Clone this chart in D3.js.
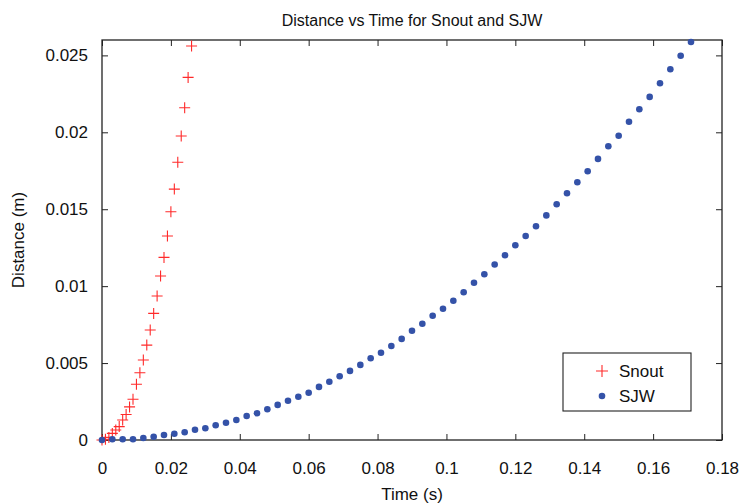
<!DOCTYPE html>
<html>
<head>
<meta charset="utf-8">
<script src="https://cdn.jsdelivr.net/npm/d3@7"></script>
<style>
  body { margin: 0; background: #fff; }
  svg { display: block; font-family: "Liberation Sans", Arial, sans-serif; }
</style>
</head>
<body>
<svg id="chart"></svg>
<script>
// Snout: sampled every 1 ms
const snoutTime = [0, 0.001, 0.002, 0.003, 0.004, 0.005, 0.006, 0.007, 0.008, 0.009,
  0.010, 0.011, 0.012, 0.013, 0.014, 0.015, 0.016, 0.017, 0.018, 0.019,
  0.020, 0.021, 0.022, 0.023, 0.024, 0.025, 0.026];
const snoutDist = [0, 0.00005, 0.00017, 0.00043, 0.00065, 0.00087, 0.0013, 0.00166, 0.00215, 0.00265,
  0.00362, 0.00437, 0.0052, 0.00617, 0.00715, 0.00823, 0.00936, 0.01066, 0.01187, 0.01326,
  0.01484, 0.01631, 0.01805, 0.01976, 0.0216, 0.02357, 0.02561];

// SJW: sampled every 3 ms
const sjwTime = [0, 0.003, 0.006, 0.009, 0.012, 0.015, 0.018, 0.021, 0.024, 0.027,
  0.030, 0.033, 0.036, 0.039, 0.042, 0.045, 0.048, 0.051, 0.054, 0.057,
  0.060, 0.063, 0.066, 0.069, 0.072, 0.075, 0.078, 0.081, 0.084, 0.087,
  0.090, 0.093, 0.096, 0.099, 0.102, 0.105, 0.108, 0.111, 0.114, 0.117,
  0.120, 0.123, 0.126, 0.129, 0.132, 0.135, 0.138, 0.141, 0.144, 0.147,
  0.150, 0.153, 0.156, 0.159, 0.162, 0.165, 0.168, 0.171];
const sjwDist = [0, 0.00005, 0.00005, 0.00005, 0.00013, 0.000215, 0.000325, 0.00041, 0.0005, 0.00067,
  0.00076, 0.00096, 0.00112, 0.0013, 0.00156, 0.00174, 0.002, 0.00228, 0.00255, 0.00281,
  0.00307, 0.00345, 0.00379, 0.00414, 0.00449, 0.00488, 0.00531, 0.00567, 0.00611, 0.00657,
  0.0071, 0.00756, 0.00808, 0.00853, 0.00905, 0.0096, 0.01022, 0.01077, 0.01141, 0.01201,
  0.01266, 0.01326, 0.01389, 0.0146, 0.01532, 0.01604, 0.01675, 0.01747, 0.01827, 0.01909,
  0.01978, 0.02069, 0.0215, 0.0223, 0.02319, 0.0241, 0.02498, 0.02587];

const xTicks = [0, 0.02, 0.04, 0.06, 0.08, 0.1, 0.12, 0.14, 0.16, 0.18];
const xTickLabels = ["0", "0.02", "0.04", "0.06", "0.08", "0.1", "0.12", "0.14", "0.16", "0.18"];
const yTicks = [0, 0.005, 0.01, 0.015, 0.02, 0.025];
const yTickLabels = ["0", "0.005", "0.01", "0.015", "0.02", "0.025"];

const seriesNames = ["Snout", "SJW"];

const width = 742, height = 504;
const marginLeft = 102, marginRight = 20, marginTop = 40, marginBottom = 64;
const TICK = 6;
const RED = "#ff2a2a", BLUE = "#3452a8";

const x = d3.scaleLinear().domain([0, 0.18]).range([marginLeft, width - marginRight]);
const y = d3.scaleLinear().domain([0, 0.026]).range([height - marginBottom, marginTop]);

const svg = d3.select("#chart")
    .attr("width", width)
    .attr("height", height)
    .attr("viewBox", [0, 0, width, height]);

svg.append("rect").attr("width", width).attr("height", height).attr("fill", "#fff");

const x0 = x.range()[0], x1 = x.range()[1];
const y0 = y.range()[0], y1 = y.range()[1];

// axes, ticks pointing inward on all four sides
const fmtX = d => xTickLabels[xTicks.indexOf(d)];
const fmtY = d => yTickLabels[yTicks.indexOf(d)];

function styleAxis(g) {
    g.select(".domain").remove();
    g.selectAll(".tick line").attr("stroke", "#222").attr("stroke-width", 1);
    g.selectAll(".tick text")
        .attr("fill", "#111")
        .style("font-size", "17px")
        .style("font-family", "'Liberation Sans', Arial, sans-serif");
}

svg.append("g")
    .attr("transform", `translate(0,${y0})`)
    .call(d3.axisBottom(x).tickValues(xTicks).tickFormat(fmtX).tickSizeInner(-TICK).tickSizeOuter(0).tickPadding(TICK + 16))
    .call(styleAxis);

svg.append("g")
    .attr("transform", `translate(0,${y1})`)
    .call(d3.axisTop(x).tickValues(xTicks).tickFormat("").tickSizeInner(-TICK).tickSizeOuter(0))
    .call(styleAxis);

svg.append("g")
    .attr("transform", `translate(${x0},0)`)
    .call(d3.axisLeft(y).tickValues(yTicks).tickFormat(fmtY).tickSizeInner(-TICK).tickSizeOuter(0).tickPadding(TICK + 8))
    .call(styleAxis);

svg.append("g")
    .attr("transform", `translate(${x1},0)`)
    .call(d3.axisRight(y).tickValues(yTicks).tickFormat("").tickSizeInner(-TICK).tickSizeOuter(0))
    .call(styleAxis);

// box
svg.append("rect")
    .attr("x", x0).attr("y", y1)
    .attr("width", x1 - x0).attr("height", y0 - y1)
    .attr("fill", "none")
    .attr("stroke", "#222")
    .attr("stroke-width", 1.3);

const plus = d3.symbol().type(d3.symbolCross);
function crossPath(s) {
    return `M${-s},0H${s}M0,${-s}V${s}`;
}

// Snout
const snout = snoutTime.map((t, i) => [t, snoutDist[i]]);
svg.append("g")
    .selectAll("path")
    .data(snout)
    .join("path")
    .attr("transform", d => `translate(${x(d[0])},${y(d[1])})`)
    .attr("d", crossPath(5.5))
    .attr("stroke", RED)
    .attr("stroke-width", 1.1)
    .attr("fill", "none");

// SJW
const sjw = sjwTime.map((t, i) => [t, sjwDist[i]]);
svg.append("g")
    .selectAll("circle")
    .data(sjw)
    .join("circle")
    .attr("cx", d => x(d[0]))
    .attr("cy", d => y(d[1]))
    .attr("r", 3.3)
    .attr("fill", BLUE);

// title and labels
svg.append("text")
    .attr("x", (x0 + x1) / 2)
    .attr("y", 26)
    .attr("text-anchor", "middle")
    .style("font-size", "16px")
    .attr("fill", "#111")
    .text("Distance vs Time for Snout and SJW");

svg.append("text")
    .attr("x", (x0 + x1) / 2)
    .attr("y", 500)
    .attr("text-anchor", "middle")
    .style("font-size", "17px")
    .attr("fill", "#111")
    .text("Time (s)");

svg.append("text")
    .attr("transform", `translate(24,${(y0 + y1) / 2}) rotate(-90)`)
    .attr("text-anchor", "middle")
    .style("font-size", "17px")
    .attr("fill", "#111")
    .text("Distance (m)");

// legend
const legend = svg.append("g").attr("transform", "translate(563,353)");
legend.append("rect")
    .attr("width", 128).attr("height", 58)
    .attr("fill", "#fff")
    .attr("stroke", "#222")
    .attr("stroke-width", 1.1);

legend.append("path")
    .attr("transform", "translate(39,18)")
    .attr("d", crossPath(6))
    .attr("stroke", RED)
    .attr("stroke-width", 1.1);
legend.append("circle")
    .attr("cx", 39).attr("cy", 43)
    .attr("r", 3.3)
    .attr("fill", BLUE);

legend.selectAll("text")
    .data(seriesNames)
    .join("text")
    .attr("x", 56)
    .attr("y", (d, i) => 24 + i * 25)
    .style("font-size", "17px")
    .attr("fill", "#111")
    .text(d => d);
</script>
</body>
</html>
